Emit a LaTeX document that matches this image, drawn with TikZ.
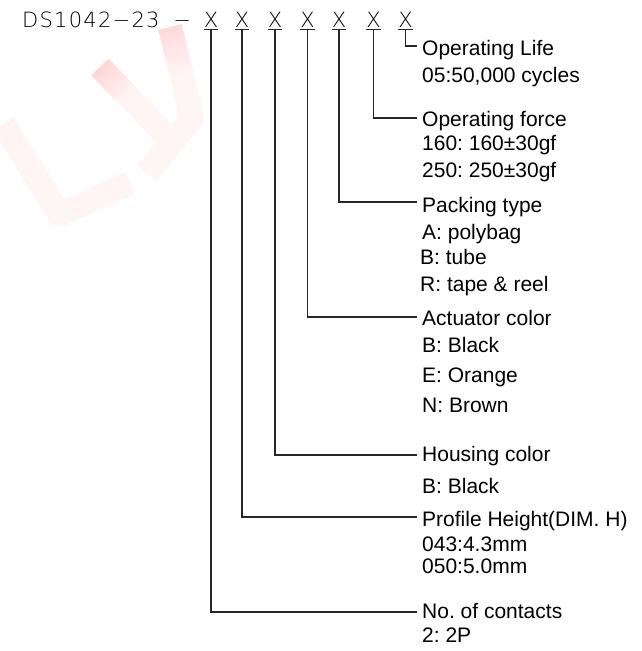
\documentclass[tikz,border=0pt]{standalone}
\usepackage{fontspec}
\usetikzlibrary{calc}
\setmainfont{Liberation Sans}
\IfFontExistsTF{DejaVu Sans ExtraLight}
  {\newfontfamily\cadfont[LetterSpace=6]{DejaVu Sans ExtraLight}}
  {\newfontfamily\cadfont[LetterSpace=12]{DejaVu Sans Mono}}
\frenchspacing
\newcommand\wmfade[4]{% start, end, start colour %, fraction of the stroke faded
  \foreach \i in {0,...,9} {
    \pgfmathsetmacro\ta{#4*\i/10}
    \pgfmathsetmacro\tb{#4*(\i+1)/10+0.006}
    \pgfmathtruncatemacro\cc{4+(#3-4)*(1-\i/10)}
    \draw[wmstroke, draw=red!\cc] ($#1!\ta!#2$) -- ($#1!\tb!#2$);
  }}
\begin{document}
\begin{tikzpicture}[x=1pt,y=-1pt,
  conn/.style={draw=black!85, line width=1.1pt},
  uline/.style={draw=black!85, line width=1pt},
  lbl/.style={anchor=base west, inner sep=0pt, font=\fontsize{21}{24}\selectfont},
  xmark/.style={anchor=base, inner xsep=0pt, inner ysep=1.8pt, font=\cadfont\fontsize{21}{24}\selectfont},
  wmstroke/.style={line width=24pt, line join=round, line cap=butt}]
\useasboundingbox (0,0) rectangle (642,651);
% watermark (faint)
\begin{scope}
\clip (0,0) rectangle (642,651);
\draw[wmstroke, draw=red!4] (3.8,124.4) -- (59.6,214.6) -- (130,183);
\draw[wmstroke, draw=red!4] (100,67) -- (172,142);
\draw[wmstroke, draw=red!4] (170,27) -- (192,118) -- (147,173);
\wmfade{(3.8,124.4)}{(59.6,214.6)}{6}{0.3}
\wmfade{(100,67)}{(172,142)}{16}{0.4}
\wmfade{(170,27)}{(192,118)}{15}{0.5}
\end{scope}
% title
\node[anchor=base west, inner sep=0pt, font=\cadfont\fontsize{21}{24}\selectfont] (title) at (22,27) {DS1042−23\hspace{6pt} −};
\node[xmark] (x1) at (211,27) {X};
\node[xmark] (x2) at (242,27) {X};
\node[xmark] (x3) at (275,27) {X};
\node[xmark] (x4) at (307.5,27) {X};
\node[xmark] (x5) at (339,27) {X};
\node[xmark] (x6) at (373.5,27) {X};
\node[xmark] (x7) at (405.5,27) {X};
\foreach \n in {x1,x2,x3,x4,x5,x6,x7} {
  \draw[uline] (\n.south west) -- (\n.south east);
}
% connector ends
\coordinate (c7) at (417,46);
\coordinate (c6) at (417,118);
\coordinate (c5) at (417,202);
\coordinate (c4) at (417,317);
\coordinate (c3) at (417,455);
\coordinate (c2) at (417,517);
\coordinate (c1) at (417,612);
\foreach \i in {1,...,7} {
  \draw[conn] (x\i.south) |- (c\i);
}
% labels
\node[lbl] (l7a) at (422,55) {Operating Life};
\node[lbl] (l7b) at (422,82.7) {05:50,000 cycles};
\node[lbl] (l6a) at (422,126) {Operating force};
\node[lbl] (l6b) at (422,150) {160: 160±30gf};
\node[lbl] (l6c) at (422,177) {250: 250±30gf};
\node[lbl] (l5a) at (422,212) {Packing type};
\node[lbl] (l5b) at (422,239) {A: polybag};
\node[lbl] (l5c) at (420,264) {B: tube};
\node[lbl] (l5d) at (420,291) {R: tape \& reel};
\node[lbl] (l4a) at (422,325.7) {Actuator color};
\node[lbl] (l4b) at (422,352.7) {B: Black};
\node[lbl] (l4c) at (422,382.7) {E: Orange};
\node[lbl] (l4d) at (422,412) {N: Brown};
\node[lbl] (l3a) at (422,461.7) {Housing color};
\node[lbl] (l3b) at (422,493) {B: Black};
\node[lbl] (l2a) at (422,526.7) {Profile Height(DIM. H)};
\node[lbl] (l2b) at (422,551.7) {043:4.3mm};
\node[lbl] (l2c) at (422,573) {050:5.0mm};
\node[lbl] (l1a) at (422,618) {No. of contacts};
\node[lbl] (l1b) at (422,642.7) {2: 2P};
\end{tikzpicture}
\end{document}
